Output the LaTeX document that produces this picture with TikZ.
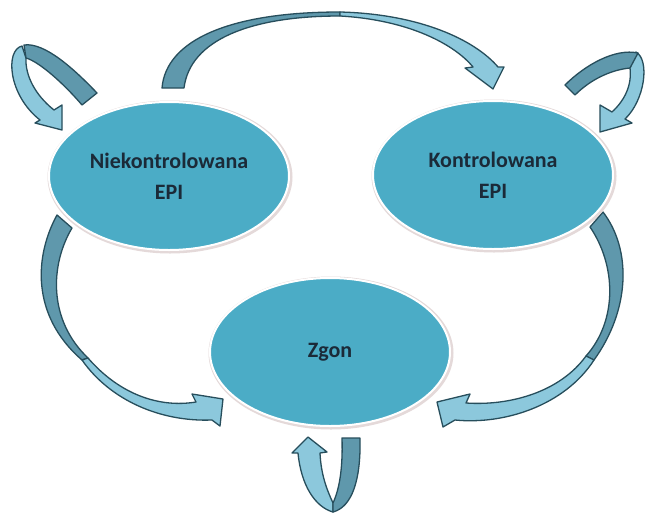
\documentclass[tikz,border=0pt]{standalone}
\usepackage{fontspec}
\setmainfont{Carlito}
\usetikzlibrary{shapes.geometric}
\definecolor{ellfill}{HTML}{4BACC6}
\definecolor{ellshadow}{HTML}{E4D9D9}
\definecolor{txt}{HTML}{1B2A38}
\definecolor{arrlight}{HTML}{8CC8DC}
\definecolor{arrdark}{HTML}{5F98AC}
\definecolor{arrline}{HTML}{274E5C}
\newcommand\statefont{\bfseries\fontsize{22}{31}\selectfont}
\tikzset{
  band/.style={draw=arrline, line width=1.3pt, line join=round},
  lightband/.style={band, fill=arrlight},
  darkband/.style={band, fill=arrdark},
  statenode/.style={ellipse, fill=ellfill, draw=white, line width=2pt,
    minimum width=240pt, minimum height=148pt, inner sep=0pt,
    text=txt, font=\statefont, align=center},
  shadownode/.style={ellipse, fill=ellshadow, draw=none,
    minimum width=245pt, minimum height=153pt, inner sep=0pt},
}
\begin{document}
\begin{tikzpicture}[x=1pt,y=-1pt]
\useasboundingbox (0,0) rectangle (647,514);
\fill[white] (0,0) rectangle (647,514);

% top arrow: uncontrolled -> controlled
\draw[darkband] (162,88) .. controls (166,40) and (230,12) .. (340,12)
  -- (340,16) .. controls (250,16) and (190,40) .. (184,88) -- cycle;
\draw[lightband] (340,12) .. controls (420,14) and (475,40) .. (498,67)
  -- (504,67) -- (493,89) -- (465,68) -- (473,67)
  .. controls (455,45) and (410,20) .. (340,16) -- cycle;

% lower-left arrow: uncontrolled -> death
\draw[darkband] (57,215) .. controls (35,255) and (30,315) .. (82,360)
  -- (88,358) .. controls (48,320) and (50,265) .. (72,228) -- cycle;
\draw[lightband] (82,360) .. controls (110,400) and (160,422) .. (212,420)
  -- (220,426) -- (223,399) -- (192,394) -- (196,402)
  .. controls (160,408) and (120,395) .. (88,358) -- cycle;

% lower-right arrow: controlled -> death
\draw[darkband] (603,212) .. controls (632,250) and (630,310) .. (594,360)
  -- (586,356) .. controls (618,320) and (616,265) .. (590,227) -- cycle;
\draw[lightband] (594,360) .. controls (565,405) and (505,425) .. (455,420)
  -- (443,427) -- (437,402) -- (470,394) -- (466,403)
  .. controls (510,406) and (560,392) .. (586,356) -- cycle;

% bottom self-loop (death)
\draw[lightband] (298,453) .. controls (301,485) and (315,507) .. (333,512)
  -- (333,503) .. controls (327,490) and (321,475) .. (320,453)
  -- (327,452) -- (308,437) -- (292,453) -- cycle;
\draw[darkband] (360,438) .. controls (361,480) and (352,507) .. (333,512)
  -- (333,503) .. controls (339,490) and (343,470) .. (342,438) -- cycle;

% left self-loop
\draw[lightband] (22,46) .. controls (5,50) and (8,95) .. (40,120)
  -- (35,123) -- (62,130) -- (62,105) -- (54,110)
  .. controls (35,95) and (25,75) .. (26,58) -- cycle;
\draw[darkband] (97,93) .. controls (75,70) and (45,42) .. (24,45)
  -- (26,58) .. controls (40,62) and (65,85) .. (82,105) -- cycle;

% right self-loop
\draw[lightband] (636,52) .. controls (650,60) and (645,100) .. (625,119)
  -- (632,123) -- (600,132) -- (600,105) -- (612,112)
  .. controls (625,100) and (632,85) .. (630,68) -- cycle;
\draw[darkband] (565,85) .. controls (585,65) and (615,48) .. (638,53)
  -- (630,68) .. controls (610,70) and (590,80) .. (575,95) -- cycle;

% states
\node[shadownode] (nieS) at (170,177) {};
\node[shadownode] (konS) at (494,176) {};
\node[shadownode] (zgonS) at (331,353) {};
\node[statenode] (nie) at (169,176) {Niekontrolowana\\EPI};
\node[statenode] (kon) at (493,175) {Kontrolowana\\EPI};
\node[statenode] (zgon) at (330,352) {Zgon};
\end{tikzpicture}
\end{document}
